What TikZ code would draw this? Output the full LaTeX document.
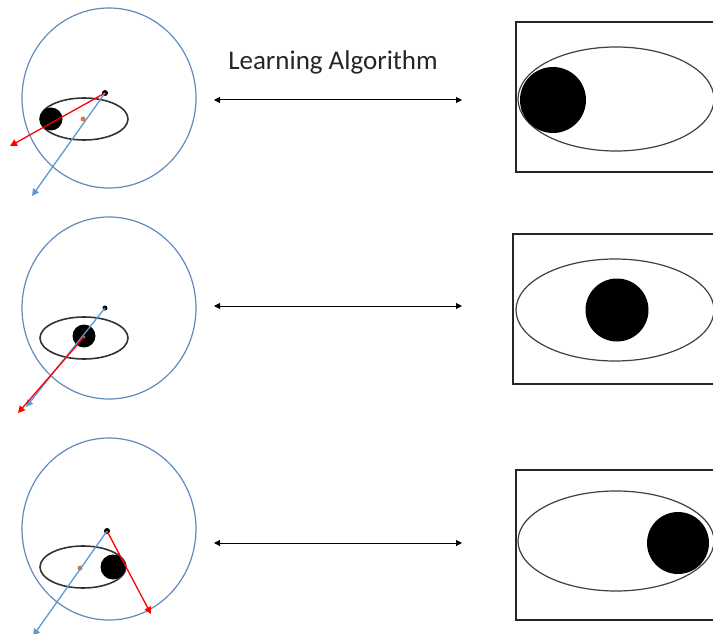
\documentclass[tikz,border=0pt]{standalone}
\usepackage{fontspec}
\setmainfont{Carlito}
\usetikzlibrary{arrows.meta}
\definecolor{ringblue}{RGB}{96,138,190}
\definecolor{arrblue}{RGB}{91,155,213}
\definecolor{dotorange}{RGB}{222,120,50}
\tikzset{
  ring/.style={draw=ringblue, line width=1.2pt},
  orbit/.style={draw=black!80, line width=1.6pt},
  planet/.style={circle, fill=black, inner sep=0pt},
  cdot/.style={circle, fill=black, inner sep=0pt, minimum size=6pt},
  odot/.style={circle, fill=dotorange, inner sep=0pt, minimum size=5pt},
  redarr/.style={draw=red, line width=1.3pt, -{Triangle[length=7pt,width=7pt]}},
  bluearr/.style={draw=arrblue, line width=1.3pt, -{Triangle[length=7pt,width=7pt]}},
  linkarr/.style={draw=black, line width=1pt, {Triangle[length=6pt,width=6pt]}-{Triangle[length=6pt,width=6pt]}},
  frame/.style={draw=black!85, line width=1.1pt},
  bigorbit/.style={draw=black!75, line width=1.2pt},
}
\begin{document}
\begin{tikzpicture}[x=1pt,y=-1pt]
\useasboundingbox (0,0) rectangle (713,634);
\fill[white] (0,0) rectangle (713,634);

% ---------- Panel 1 ----------
\draw[ring] (109,98) ellipse [x radius=87, y radius=90];
\draw[orbit] (84,119) ellipse [x radius=44, y radius=21];
\node[planet, minimum size=23pt] (p1) at (51,119) {};
\node[odot] (o1) at (83,119) {};
\node[cdot] (c1) at (105,93) {};
\coordinate (r1) at (10,146);
\coordinate (b1) at (32,196);
\draw[redarr] (c1.center) -- (r1);
\draw[bluearr] (c1.center) -- (b1);

% ---------- Panel 2 ----------
\draw[ring] (109,308) ellipse [x radius=87, y radius=91];
\draw[orbit] (84,338) ellipse [x radius=44, y radius=21];
\node[planet, minimum size=23pt] (p2) at (84,336) {};
\node[odot, minimum size=3pt] (o2) at (84,337) {};
\node[cdot, minimum size=5pt] (c2) at (105,308) {};
\coordinate (r2) at (18,413);
\coordinate (b2) at (26,407);
\draw[bluearr] (c2.center) -- (b2);
\draw[redarr] (o2.center) -- (r2);

% ---------- Panel 3 ----------
\draw[ring] (109,529) ellipse [x radius=87, y radius=91];
\draw[orbit] (83,567) ellipse [x radius=43, y radius=21];
\node[planet, minimum size=25pt] (p3) at (113,567) {};
\node[odot] (o3) at (80,568) {};
\node[cdot] (c3) at (107,531) {};
\coordinate (r3) at (151,614);
\coordinate (b3) at (33,636);
\draw[redarr] (c3.center) -- (r3);
\draw[bluearr] (c3.center) -- (b3);

% ---------- Middle arrows ----------
\node[font=\fontsize{27}{30}\selectfont, text=black!85] (title) at (333,62) {Learning Algorithm};
\coordinate (a1l) at (214,100); \coordinate (a1r) at (462,100);
\coordinate (a2l) at (214,306); \coordinate (a2r) at (462,306);
\coordinate (a3l) at (214,543); \coordinate (a3r) at (462,543);
\draw[linkarr] (a1l) -- (a1r);
\draw[linkarr] (a2l) -- (a2r);
\draw[linkarr] (a3l) -- (a3r);

% ---------- Right column ----------
\draw[frame] (516,22) rectangle (720,172);
\draw[bigorbit] (616,99) ellipse [x radius=98, y radius=52];
\node[planet, minimum size=66pt] (q1) at (553,100) {};

\draw[frame] (513,234) rectangle (720,384);
\draw[bigorbit] (615,310) ellipse [x radius=99, y radius=51];
\node[planet, minimum size=63pt] (q2) at (617,310) {};

\draw[frame] (516,470) rectangle (720,620);
\draw[bigorbit] (616,541) ellipse [x radius=98, y radius=50];
\node[planet, minimum size=62pt] (q3) at (678,543) {};
\end{tikzpicture}
\end{document}
